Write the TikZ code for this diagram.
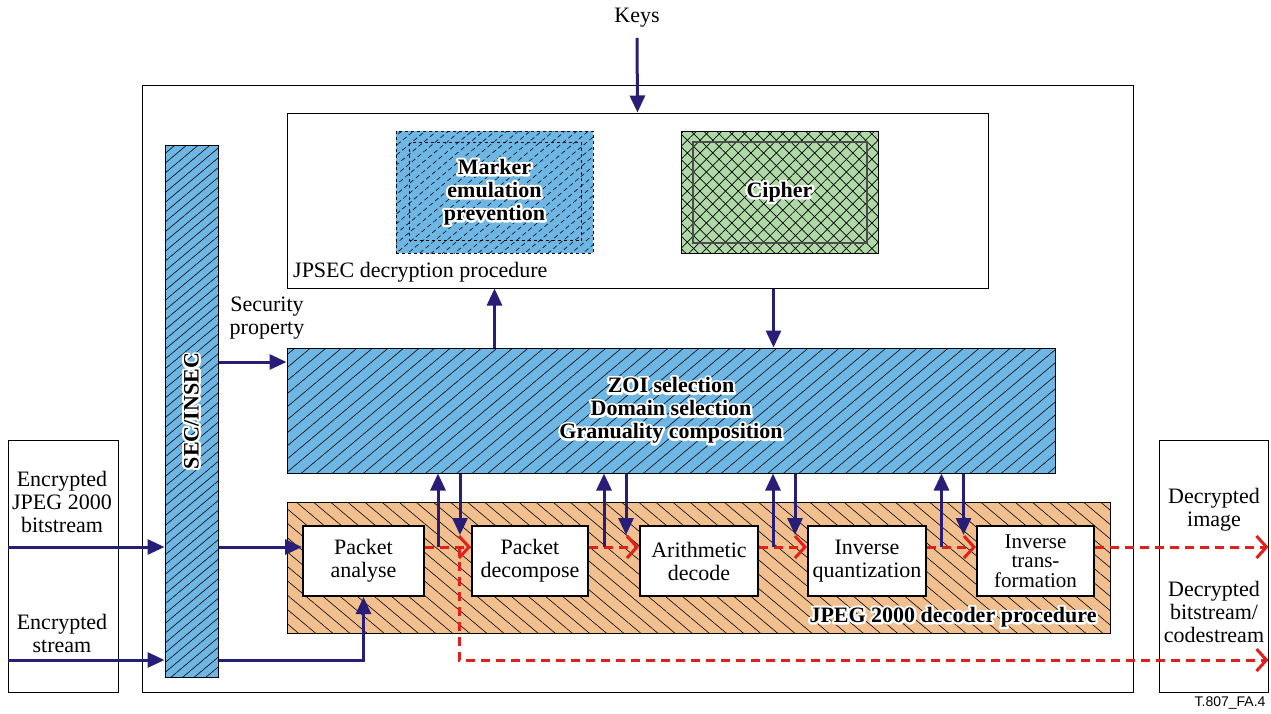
\documentclass[tikz,border=0pt]{standalone}
\usepackage{fontspec}
\setmainfont{Liberation Serif}
\newfontfamily\figsans{Liberation Sans}
\usetikzlibrary{arrows.meta,patterns.meta,calc}

\definecolor{navy}{RGB}{40,30,120}
\definecolor{hatchblue}{RGB}{110,182,228}
\definecolor{hatchorange}{RGB}{242,192,142}
\definecolor{hatchgreen}{RGB}{176,217,168}
\definecolor{flowred}{RGB}{225,32,28}

% white stroked glyphs, drawn under the black text
\newcommand\strokeon{\special{pdf:literal direct 1 Tr 4.5 w 1 1 1 RG 1 j}}
\newcommand\strokeoff{\special{pdf:literal direct 0 Tr}}
\newcommand\halolabel[4]{%
  \node[#3] at (#2) {\strokeon#4\strokeoff};
  \node[#3] (#1) at (#2) {#4};}

\begin{document}
\begin{tikzpicture}[
  x=1pt, y=-1pt,
  every node/.style={inner sep=0pt, font=\fontsize{22}{23}\selectfont, align=center},
  frame/.style={draw, line width=1pt},
  procbox/.style={draw, line width=2pt, fill=white, minimum height=70pt},
  bluehatch/.style={draw, line width=1pt, fill=hatchblue,
    postaction={pattern={Lines[angle=40,distance=#1,line width=0.6pt]}}},
  bluehatch/.default=7.5pt,
  orangehatch/.style={draw, line width=1pt, fill=hatchorange,
    postaction={pattern={Lines[angle=-40,distance=11pt,line width=0.6pt]}}},
  greenhatch/.style={draw, line width=1pt, fill=hatchgreen,
    postaction={pattern={Lines[angle=45,distance=9pt,line width=0.7pt]}},
    postaction={pattern={Lines[angle=-45,distance=9pt,line width=0.7pt]}}},
  boldlab/.style={font=\fontsize{22}{23}\selectfont\bfseries},
  blu/.style={draw=navy, line width=3pt, -{Triangle[length=17pt,width=15pt]}},
  redflow/.style={draw=flowred, line width=3pt, dash pattern=on 9pt off 6pt,
    -{Straight Barb[length=10pt,width=22pt,line width=3pt]}}
]
  \useasboundingbox (0,0) rectangle (1271,713);

  % frames
  \node[frame, minimum width=991pt, minimum height=607pt] (main) at (637.5,388.5) {};
  \node[frame, minimum width=110pt, minimum height=252pt] (inbox) at (63,566) {};
  \node[frame, minimum width=109pt, minimum height=252pt] (outbox) at (1213.5,566) {};

  % blocks
  \node[bluehatch, minimum width=53pt, minimum height=532pt] (sec) at (191.5,411) {};
  \node[frame, fill=white, minimum width=701pt, minimum height=175pt] (jpsec) at (637.5,200.5) {};
  \node[bluehatch, dashed, minimum width=197pt, minimum height=122pt] (marker) at (494.5,192) {};
  \draw[dashed, line width=1.2pt] ($(marker.north west)+(14,12)$) rectangle ($(marker.south east)+(-12,-13)$);
  \node[greenhatch, minimum width=197pt, minimum height=122pt] (cipher) at (779.5,192) {};
  \draw[line width=2pt, black!70] ($(cipher.north west)+(12,11)$) rectangle ($(cipher.south east)+(-12,-11)$);
  \node[bluehatch=10pt, minimum width=768pt, minimum height=125pt] (zoi) at (671,410.5) {};
  \node[orangehatch, minimum width=823pt, minimum height=131pt] (dec) at (698.5,567.5) {};

  \node[procbox, minimum width=121pt] (pa) at (363.5,561) {Packet\\analyse};
  \node[procbox, minimum width=116pt] (pd) at (530,561) {Packet\\decompose};
  \node[procbox, minimum width=118pt] (ad) at (699,561) {Arithmetic\\decode};
  \node[procbox, minimum width=118pt] (iq) at (867,561) {Inverse\\quantization};
  \node[procbox, minimum width=117pt, font=\fontsize{21}{19.5}\selectfont] (it) at (1035.5,561) {Inverse\\trans-\\formation};

  % plain labels
  \node (keys) at (637,18) {Keys};
  \node (secprop) at (267,318) {Security\\property};
  \node[anchor=west] (jpseclab) at (293,272) {JPSEC decryption procedure};
  \node (encbit) at (62,502) {Encrypted\\JPEG 2000\\bitstream};
  \node (encstr) at (62,633) {Encrypted\\stream};
  \node (decimg) at (1214,510) {Decrypted\\image};
  \node (decbit) at (1214,612) {Decrypted\\bitstream/\\codestream};
  \node[font=\figsans\fontsize{14}{16}\selectfont] (figid) at (1230,703) {T.807\_FA.4};

  % levels
  \coordinate (ysp) at (0,362);
  \coordinate (yone) at (0,547);
  \coordinate (ytwo) at (0,660);

  % blue connectors
  \draw[blu] ($(keys.south)+(0,10)$) -- (jpsec.north);
  \draw[blu] (marker.south |- zoi.north) -- (marker.south |- jpsec.south);
  \draw[blu] ($(cipher.south |- jpsec.south)+(-6,0)$) -- ($(cipher.south |- zoi.north)+(-6,0)$);
  \draw[blu] (sec.east |- ysp) -- (zoi.west |- ysp);
  \draw[blu] (inbox.west |- yone) -- (sec.west |- yone);
  \draw[blu] (inbox.west |- ytwo) -- (sec.west |- ytwo);
  \draw[blu] (sec.east |- yone) -- (pa.west |- yone);
  \draw[blu] (sec.east |- ytwo) -| (pa.south);

  % red data flow
  \foreach \a/\b in {pa/pd, pd/ad, ad/iq, iq/it}
    \draw[redflow] (\a.east |- yone) -- (\b.west |- yone);
  \draw[redflow] (it.east |- yone) -- (outbox.east |- yone);
  \coordinate (branch) at ($(pa.east |- yone)+(34,0)$);
  \draw[redflow] (branch) |- (outbox.east |- ytwo);

  % exchanges with the selection block
  \foreach \a/\b in {pa/pd, pd/ad, ad/iq, iq/it} {
    \coordinate (gap) at ($(\a.east)!0.5!(\b.west)$);
    \draw[blu] ($(gap |- yone)+(-10,0)$) -- ($(gap |- zoi.south)+(-10,0)$);
    \draw[blu] ($(gap |- zoi.south)+(12,0)$) -- ($(gap |- yone)+(12,-12)$);
  }

  % outlined bold labels
  \halolabel{markerlab}{marker.center}{boldlab}{Marker\\emulation\\prevention}
  \halolabel{cipherlab}{cipher.center}{boldlab}{Cipher}
  \halolabel{zoilab}{zoi.center}{boldlab}{ZOI selection\\Domain selection\\Granuality composition}
  \halolabel{declab}{953,617}{boldlab}{JPEG 2000 decoder procedure}
  \halolabel{seclab}{sec.center}{boldlab, rotate=90}{SEC/INSEC}
\end{tikzpicture}
\end{document}
